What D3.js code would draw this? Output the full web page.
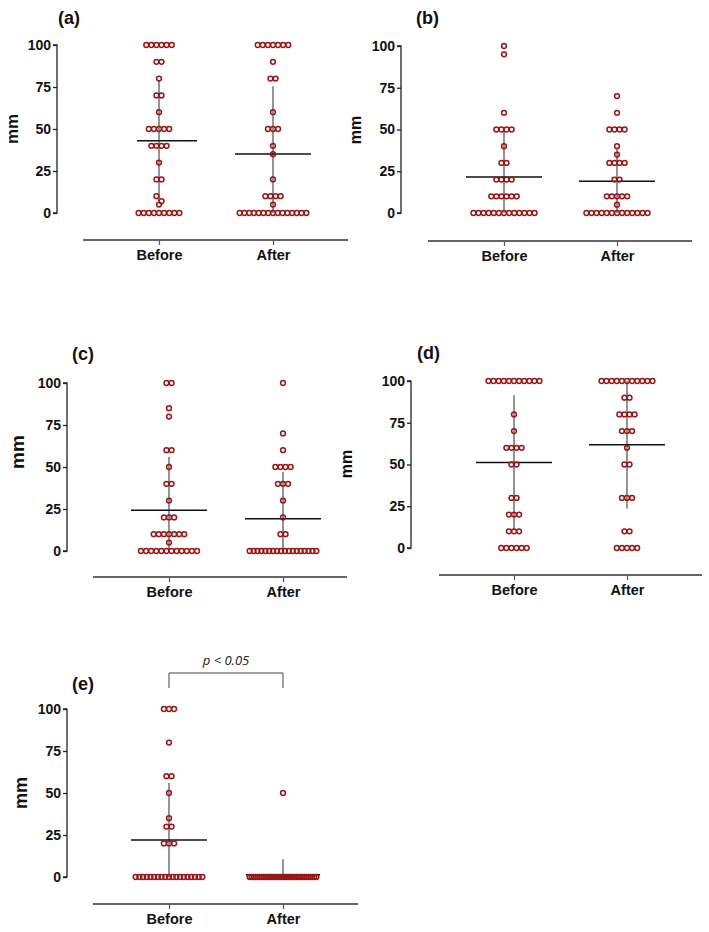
<!DOCTYPE html>
<html>
<head>
<meta charset="utf-8">
<script src="https://cdn.jsdelivr.net/npm/d3@7"></script>
<style>
  html, body { margin: 0; padding: 0; background: #fff; }
  svg { display: block; }
  text { font-family: "Liberation Sans", Arial, Helvetica, sans-serif; }
</style>
</head>
<body>
<svg id="chart" width="709" height="932"></svg>
<script>
// ---------------- data ----------------
const categories = ["Before", "After"];
const yTickValues = [0, 25, 50, 75, 100];
const panelLabels = ["(a)", "(b)", "(c)", "(d)", "(e)"];
const yAxisTitle = "mm";
const significanceText = "p < 0.05";

const aBefore = [100,100,100,100,100,100, 90,90, 80, 70,70, 60, 50,50,50,50,50, 40,40,40,40, 30, 20,20, 10, 7, 5, 0,0,0,0,0,0,0,0,0];
const aAfter  = [100,100,100,100,100,100,100, 90, 80,80, 60, 50,50,50, 40, 35, 20, 10,10,10,10, 5, 0,0,0,0,0,0,0,0,0,0,0,0,0,0,0];

const bBefore = [100, 95, 60, 50,50,50,50, 40, 30,30, 20,20,20,20, 10,10,10,10,10,10, 0,0,0,0,0,0,0,0,0,0,0,0,0];
const bAfter  = [70, 60, 50,50,50,50, 40, 35, 30,30,30,30, 20,20, 10,10,10,10,10, 5, 0,0,0,0,0,0,0,0,0,0,0,0,0];

const cBefore = [100,100, 85, 80, 60,60, 50, 40,40, 30, 20,20,20, 10,10,10,10,10,10,10, 5, 0,0,0,0,0,0,0,0,0,0,0,0];
const cAfter  = [100, 70, 60, 50,50,50,50, 40,40,40, 30, 20, 10,10, 0,0,0,0,0,0,0,0,0,0,0,0,0,0,0,0,0,0];

const dBefore = [100,100,100,100,100,100,100,100,100,100,100, 80, 70, 60,60,60,60, 50,50, 30,30, 20,20,20, 10,10,10, 0,0,0,0,0,0];
const dAfter  = [100,100,100,100,100,100,100,100,100,100,100, 90,90, 80,80,80,80, 70,70,70, 60, 50,50, 30,30,30, 10,10, 0,0,0,0,0];

const eBefore = [100,100,100, 80, 60,60, 50, 35, 30,30, 20,20,20, 0,0,0,0,0,0,0,0,0,0,0,0,0,0,0,0,0,0,0];
const eAfter  = [50, 0,0,0,0,0,0,0,0,0,0,0,0,0,0,0,0,0,0,0,0,0,0,0,0,0,0,0,0,0,0,0,0,0,0,0];

// mean lines and error bar ends: [Before, After]
const meanValues = [[43, 35.1], [21.5, 19], [24.2, 19.2], [51.2, 61.8], [22, 1.4]];
const errLow     = [[7, 0], [0, 0], [0, 0], [11, 23.7], [0, 0]];
const errHigh    = [[79, 75.5], [49, 39], [56, 47], [91.4, 100], [56, 10.5]];

const panelSeries = [
  [aBefore, aAfter], [bBefore, bAfter], [cBefore, cAfter], [dBefore, dAfter], [eBefore, eAfter]
];

// ---------------- layout (positions only) ----------------
const layouts = [
  { yAxisX: 57,  yTop: 45,  yBot: 213, xAxisY: 240, xLine: [83, 348],  cats: [159, 273], title: [58, 24],  mm: [12, 129, 17], meanExt: [[-22, 38], [-38, 38]] },
  { yAxisX: 401, yTop: 46,  yBot: 213, xAxisY: 241, xLine: [428, 692], cats: [504, 617], title: [416, 24], mm: [355, 130, 16], meanExt: [[-38, 38], [-38, 38]] },
  { yAxisX: 67,  yTop: 383, yBot: 551, xAxisY: 577, xLine: [93, 347],  cats: [169, 283], title: [72, 360], mm: [17, 452, 19], meanExt: [[-38, 38], [-38, 38]] },
  { yAxisX: 411, yTop: 381, yBot: 548, xAxisY: 575, xLine: [439, 702], cats: [514, 627], title: [417, 359], mm: [346, 464, 16], meanExt: [[-38, 38], [-38, 38]] },
  { yAxisX: 67,  yTop: 709, yBot: 877, xAxisY: 904, xLine: [93, 358],  cats: [169, 283], title: [72, 690], mm: [21, 793, 18], meanExt: [[-38, 38], [-37, 37]] }
];

const dotColor = "#9a1515";
const dotR = 2.4;
const dotStep = 5.1;
const maxSpan = 66.7;

const svg = d3.select("#chart");

layouts.forEach((L, pi) => {
  const g = svg.append("g");
  const y = d3.scaleLinear().domain([0, 100]).range([L.yBot, L.yTop]);
  const x = d3.scalePoint().domain(categories).range(L.cats);

  // y axis
  const yAxis = d3.axisLeft(y).tickValues(yTickValues).tickSize(4).tickPadding(2);
  const ya = g.append("g").attr("transform", `translate(${L.yAxisX},0)`).call(yAxis);
  ya.select(".domain").attr("stroke", "#222").attr("stroke-width", 1.3).attr("d", `M-4,${L.yTop}H0V${L.yBot}H-4`);
  ya.selectAll(".tick line").attr("stroke", "#222").attr("stroke-width", 1.3);
  ya.selectAll(".tick text").attr("font-size", 14).attr("font-weight", "bold").attr("fill", "#111")
    .style("font-family", "'Liberation Sans', Arial, sans-serif");

  // x axis
  const xAxis = d3.axisBottom(x).tickSize(5).tickPadding(5);
  const xa = g.append("g").attr("transform", `translate(0,${L.xAxisY})`).call(xAxis);
  xa.select(".domain").attr("stroke", "#333").attr("stroke-width", 1.5).attr("d", `M${L.xLine[0]},0H${L.xLine[1]}`);
  xa.selectAll(".tick line").attr("stroke", "#555").attr("stroke-width", 1.2);
  xa.selectAll(".tick text").attr("font-size", 14.5).attr("font-weight", "bold").attr("fill", "#111")
    .style("font-family", "'Liberation Sans', Arial, sans-serif");

  // panel label
  g.append("text").attr("x", L.title[0]).attr("y", L.title[1]).attr("font-size", 18).attr("font-weight", "bold")
    .attr("fill", "#111").text(panelLabels[pi]);

  // y title
  g.append("text").attr("transform", `translate(${L.mm[0]},${L.mm[1]}) rotate(-90)`)
    .attr("text-anchor", "middle").attr("dominant-baseline", "central")
    .attr("font-size", L.mm[2]).attr("font-weight", "bold").attr("fill", "#111").text(yAxisTitle);

  categories.forEach((cat, ci) => {
    const cx = x(cat);
    // error bar (SD)
    g.append("line").attr("x1", cx).attr("x2", cx)
      .attr("y1", y(errHigh[pi][ci])).attr("y2", y(errLow[pi][ci]))
      .attr("stroke", "#7a7a7a").attr("stroke-width", 1.6);
    // mean line
    const ext = L.meanExt[ci];
    g.append("line").attr("x1", cx + ext[0]).attr("x2", cx + ext[1])
      .attr("y1", y(meanValues[pi][ci])).attr("y2", y(meanValues[pi][ci]))
      .attr("stroke", "#111").attr("stroke-width", 1.5);

    // scatter: group values whose positions overlap, spread them horizontally
    const vals = panelSeries[pi][ci].slice().sort((a, b) => b - a);
    const groups = [];
    vals.forEach(v => {
      const last = groups[groups.length - 1];
      if (last && Math.abs(y(v) - y(last[0])) < 2 * dotR + 0.5) last.push(v);
      else groups.push([v]);
    });
    const pts = [];
    groups.forEach(grp => {
      const n = grp.length;
      const step = n > 1 ? Math.min(dotStep, maxSpan / (n - 1)) : 0;
      grp.forEach((v, i) => pts.push({ x: cx + (i - (n - 1) / 2) * step, y: y(v) }));
    });
    g.selectAll(null).data(pts).enter().append("circle")
      .attr("cx", d => d.x).attr("cy", d => d.y).attr("r", dotR)
      .attr("fill", "none").attr("stroke", dotColor).attr("stroke-width", 1.5);
  });

  // significance bracket for panel (e)
  if (pi === 4) {
    const x1 = x(categories[0]), x2 = x(categories[1]);
    const top = 673, bottom = 688;
    g.append("path").attr("d", `M${x1},${bottom}V${top}H${x2}V${bottom}`)
      .attr("fill", "none").attr("stroke", "#444").attr("stroke-width", 1);
    g.append("text").attr("x", (x1 + x2) / 2).attr("y", 665).attr("text-anchor", "middle")
      .attr("font-size", 13).attr("font-style", "italic").attr("fill", "#222")
      .style("font-family", "'Open Sans', 'DejaVu Sans', sans-serif").text(significanceText);
  }
});
</script>
</body>
</html>
